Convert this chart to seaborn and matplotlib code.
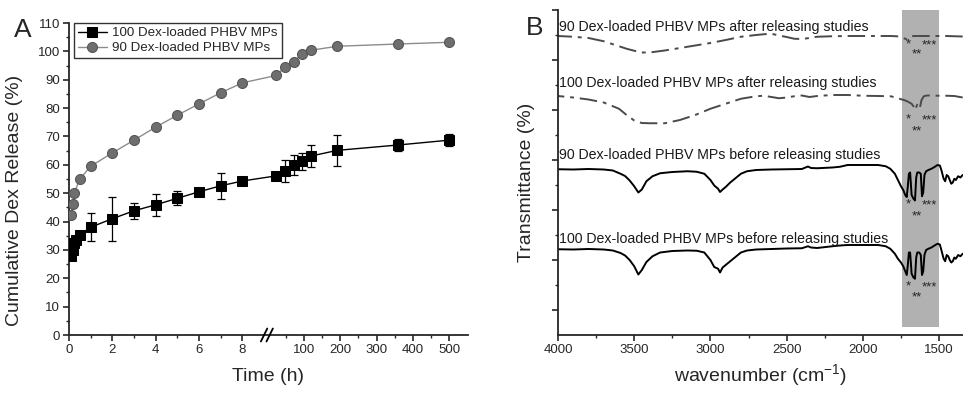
import numpy as np
import matplotlib
matplotlib.use("Agg")
import matplotlib.pyplot as plt
import seaborn as sns
from matplotlib.scale import FuncScale
from matplotlib.lines import Line2D

sns.set_style("ticks")
plt.rcParams['font.family'] = ['Liberation Sans', 'DejaVu Sans']
plt.rcParams['mathtext.fontset'] = 'custom'
plt.rcParams['mathtext.rm'] = 'Liberation Sans'

# ---------------- Panel A data ----------------
t_100 = [0.083, 0.167, 0.25, 0.33, 0.5, 1, 2, 3, 4, 5, 6, 7, 8, 24, 48, 72, 96, 120, 192, 360, 500]
rel_100 = [27.8, 30.0, 32.3, 33.5, 35.3, 38.0, 41.0, 43.8, 45.9, 48.2, 50.5, 52.6, 54.3,
           56.1, 57.8, 59.8, 61.3, 63.1, 65.1, 67.0, 68.7]
err_100 = [1.0, 1.0, 1.0, 1.2, 1.5, 5.0, 7.8, 2.9, 3.9, 2.5, 1.0, 4.5, 1.0,
           1.2, 3.8, 3.5, 3.0, 4.0, 5.5, 2.0, 2.0]
t_90 = [0.083, 0.167, 0.25, 0.5, 1, 2, 3, 4, 5, 6, 7, 8, 24, 48, 72, 96, 120, 192, 360, 500]
rel_90 = [42.2, 46.3, 50.2, 55.0, 59.5, 64.2, 68.7, 73.3, 77.5, 81.5, 85.4, 88.9,
          91.5, 94.4, 96.4, 99.1, 100.4, 101.8, 102.6, 103.2]
label_100 = "100 Dex-loaded PHBV MPs"
label_90 = "90 Dex-loaded PHBV MPs"
xticks_major_A = [0, 2, 4, 6, 8, 100, 200, 300, 400, 500]
xticks_minor_A = [1, 3, 5, 7, 50, 150, 250, 350, 450]

# ---------------- Panel B data ----------------
wn_before = [4000, 3900, 3800, 3700, 3640, 3590, 3560, 3530, 3500, 3473, 3450, 3420, 3380, 3330,
             3250, 3150, 3090, 3040, 3000, 2975, 2950, 2937, 2920, 2900, 2870, 2840, 2800, 2760,
             2700, 2600, 2500, 2400, 2360, 2340, 2300, 2200, 2150, 2100, 2000, 1900, 1850, 1820,
             1790, 1770, 1750, 1735, 1722, 1712, 1705, 1698, 1690, 1680, 1668, 1658, 1650, 1643,
             1630, 1620, 1612, 1604, 1596, 1585, 1570, 1550, 1530, 1510, 1495, 1485, 1470, 1460,
             1450, 1440, 1430, 1420, 1410, 1400, 1390, 1375, 1360, 1345]
tr_90_before = [6.63, 6.62, 6.64, 6.62, 6.58, 6.45, 6.36, 6.18, 5.95, 5.70, 5.82, 6.15, 6.35, 6.47,
                6.52, 6.55, 6.53, 6.45, 6.20, 5.98, 5.85, 5.72, 5.82, 5.92, 6.10, 6.25, 6.45, 6.55,
                6.60, 6.62, 6.63, 6.64, 6.74, 6.68, 6.67, 6.70, 6.73, 6.80, 6.80, 6.80, 6.75, 6.65,
                6.45, 6.20, 5.95, 5.80, 5.60, 5.52, 5.95, 6.45, 6.50, 5.60, 5.45, 5.38, 6.30, 6.50,
                6.50, 6.45, 5.55, 5.70, 6.40, 6.55, 6.60, 6.65, 6.72, 6.80, 6.78, 6.60, 6.25, 6.15,
                6.40, 6.35, 6.20, 6.05, 6.10, 6.25, 6.20, 6.35, 6.30, 6.40]
tr_100_before = [3.43, 3.42, 3.44, 3.42, 3.38, 3.28, 3.18, 3.00, 2.75, 2.42, 2.60, 2.92, 3.15, 3.30,
                 3.36, 3.38, 3.37, 3.30, 3.00, 2.72, 2.65, 2.50, 2.70, 2.80, 2.95, 3.10, 3.30, 3.38,
                 3.42, 3.44, 3.46, 3.47, 3.55, 3.50, 3.48, 3.55, 3.58, 3.60, 3.60, 3.60, 3.55, 3.45,
                 3.25, 3.05, 2.90, 2.75, 2.55, 2.40, 2.80, 3.30, 3.30, 2.45, 2.30, 2.25, 3.10, 3.30,
                 3.30, 3.20, 2.40, 2.55, 3.20, 3.40, 3.45, 3.50, 3.58, 3.65, 3.62, 3.40, 3.05, 2.95,
                 3.20, 3.15, 3.00, 2.90, 2.95, 3.10, 3.05, 3.20, 3.15, 3.25]
wn_after = [4000, 3900, 3800, 3700, 3600, 3550, 3500, 3450, 3400, 3300, 3200, 3100, 3000, 2950,
            2900, 2800, 2700, 2650, 2600, 2550, 2500, 2450, 2400, 2350, 2300, 2200, 2100, 2000,
            1900, 1820, 1780, 1750, 1730, 1710, 1695, 1680, 1665, 1655, 1645, 1635, 1625, 1615,
            1600, 1580, 1550, 1500, 1450, 1400, 1345]
tr_90_after = [11.96, 11.93, 11.88, 11.75, 11.55, 11.45, 11.37, 11.30, 11.30, 11.38, 11.48, 11.58,
               11.68, 11.74, 11.80, 11.93, 12.00, 12.03, 12.05, 11.98, 11.92, 11.85, 11.84, 11.88,
               11.93, 11.95, 11.96, 11.96, 11.96, 11.96, 11.95, 11.92, 11.87, 11.82, 11.88, 11.95,
               11.96, 11.96, 11.96, 11.96, 11.96, 11.96, 11.96, 11.96, 11.96, 11.96, 11.96, 11.95, 11.94]
tr_100_after = [9.56, 9.50, 9.42, 9.30, 9.05, 8.80, 8.58, 8.48, 8.47, 8.47, 8.60, 8.80, 9.05, 9.15,
                9.25, 9.45, 9.55, 9.57, 9.52, 9.47, 9.50, 9.55, 9.58, 9.52, 9.56, 9.60, 9.60, 9.57,
                9.56, 9.55, 9.50, 9.43, 9.40, 9.35, 9.30, 9.25, 9.12, 9.00, 9.20, 9.28, 9.12, 9.40,
                9.55, 9.58, 9.58, 9.57, 9.57, 9.56, 9.50]
spectra_labels = ["90 Dex-loaded PHBV MPs after releasing studies",
                  "100 Dex-loaded PHBV MPs after releasing studies",
                  "90 Dex-loaded PHBV MPs before releasing studies",
                  "100 Dex-loaded PHBV MPs before releasing studies"]
label_y = [12.32, 10.08, 7.20, 3.84]
star_y_top = [11.62, 8.62, 5.22, 1.94]
star_y_mid = [11.22, 8.14, 4.74, 1.50]
xticks_B = [4000, 3500, 3000, 2500, 2000, 1500]

# ---------------- Figure ----------------
W, H = 963, 393
fig = plt.figure(figsize=(W / 100, H / 100), dpi=100)

def fx(px):
    return px / W

def fy(py):
    return 1 - py / H

axA = fig.add_axes([fx(69), fy(335), fx(468) - fx(69), fy(23) - fy(335)])
axB = fig.add_axes([fx(558), fy(335), 1.0 - fx(558), fy(10) - fy(335)])

# broken time axis: piecewise linear scale
def fwd(x):
    x = np.asarray(x, dtype=float)
    return np.where(x <= 8.9, x * 21.7,
                    np.where(x <= 14.0, 193.1 + (x - 8.9) * (10.6 / 5.1),
                             203.7 + (x - 14.0) * 0.3645))

def inv(p):
    p = np.asarray(p, dtype=float)
    return np.where(p <= 193.1, p / 21.7,
                    np.where(p <= 203.7, 8.9 + (p - 193.1) * (5.1 / 10.6),
                             14.0 + (p - 203.7) / 0.3645))

axA.set_xscale(FuncScale(axA, (fwd, inv)))

sns.lineplot(x=t_100, y=rel_100, ax=axA, color='black', lw=1.0, marker='s', markersize=6.8,
             markeredgecolor='black', label=label_100, zorder=3)
axA.errorbar(t_100, rel_100, yerr=err_100, fmt='none', ecolor='black', elinewidth=0.9,
             capsize=3, capthick=0.9, zorder=2)
sns.lineplot(x=t_90, y=rel_90, ax=axA, color='#8c8c8c', lw=1.0, marker='o', markersize=7.2,
             markerfacecolor='#6e6e6e', markeredgecolor='#555555', label=label_90, zorder=3)

axA.set_xlim(0, 551)
axA.set_ylim(0, 110)
axA.set_xticks(xticks_major_A)
axA.set_xticklabels([str(v) for v in xticks_major_A])
axA.set_xticks(xticks_minor_A, minor=True)
axA.set_yticks(np.arange(0, 111, 10))
axA.set_yticks(np.arange(5, 110, 10), minor=True)
for s in ['top', 'right']:
    axA.spines[s].set_visible(False)
for s in ['left', 'bottom']:
    axA.spines[s].set_linewidth(1.3)
axA.tick_params(which='major', direction='out', length=4.5, width=1.2, labelsize=9.5, pad=2)
axA.tick_params(which='minor', direction='out', length=2.5, width=1.0)
axA.set_xlabel("Time (h)", fontsize=14)
axA.set_ylabel("Cumulative Dex Release (%)", fontsize=14)
axA.yaxis.set_label_coords(-0.115, 0.43)
axA.xaxis.set_label_coords(0.5, -0.105)
leg = axA.legend(loc='upper left', bbox_to_anchor=(0.012, 1.0), borderaxespad=0,
                 frameon=True, fancybox=False, edgecolor='black', fontsize=9.6,
                 handlelength=2.2, borderpad=0.3, labelspacing=0.2, handletextpad=0.4)
leg.get_frame().set_linewidth(1.0)

# break marks on the time axis
xb = 11.3
base = axA.transData.transform((xb, 0))[0]
ys_ax = axA.transAxes.transform((0, 0))[1]
for dx in (-2.8, 2.8):
    px = base + dx
    ln = Line2D([px - 3.2, px + 3.2], [ys_ax - 6.5, ys_ax + 6.5], transform=None,
                color='black', lw=1.3, clip_on=False, zorder=5)
    fig.add_artist(ln)

# ---------------- Panel B ----------------
axB.axvspan(1740, 1500, ymin=0.025, ymax=1.0, color='#b1b1b1', zorder=0, lw=0)
dash_style = (0, (9, 3, 2, 3))
sns.lineplot(x=wn_after, y=tr_90_after, ax=axB, color='#4a4a4a', lw=1.4, linestyle=dash_style,
             zorder=2)
sns.lineplot(x=wn_after, y=tr_100_after, ax=axB, color='#4a4a4a', lw=1.4, linestyle=dash_style,
             zorder=2)
sns.lineplot(x=wn_before, y=tr_90_before, ax=axB, color='black', lw=1.4, zorder=2)
sns.lineplot(x=wn_before, y=tr_100_before, ax=axB, color='black', lw=1.4, zorder=2)

for lab, yy in zip(spectra_labels, label_y):
    axB.text(3993, yy, lab, fontsize=10.2, ha='left', va='center', color='#1a1a1a')
for yt, ym in zip(star_y_top, star_y_mid):
    axB.text(1703, yt, "*", fontsize=9.5, ha='center', va='center')
    axB.text(1566, yt - 0.04, "***", fontsize=9.5, ha='center', va='center')
    axB.text(1648, ym, "**", fontsize=9.5, ha='center', va='center')

axB.set_xlim(4000, 1343)
axB.set_ylim(0, 13)
axB.set_xticks(xticks_B)
axB.set_xticklabels([str(v) for v in xticks_B])
axB.set_xticks(np.arange(3750, 1300, -500), minor=True)
axB.set_yticks(np.arange(1, 14, 2))
axB.set_yticks(np.arange(2, 13, 2), minor=True)
axB.set_yticklabels([])
for s in ['top', 'right']:
    axB.spines[s].set_visible(False)
for s in ['left', 'bottom']:
    axB.spines[s].set_linewidth(1.3)
axB.tick_params(which='major', direction='out', length=4.5, width=1.2, labelsize=9.5, pad=2)
axB.tick_params(which='minor', direction='out', length=2.5, width=1.0)
axB.set_xlabel("wavenumber (cm$^{-1}$)", fontsize=14)
axB.set_ylabel("Transmittance (%)", fontsize=14)
axB.yaxis.set_label_coords(-0.058, 0.47)
axB.xaxis.set_label_coords(0.5, -0.085)

fig.text(fx(23), fy(30), "A", fontsize=19, ha='center', va='center')
fig.text(fx(535), fy(28), "B", fontsize=19, ha='center', va='center')

fig.savefig("out.png", dpi=100)
